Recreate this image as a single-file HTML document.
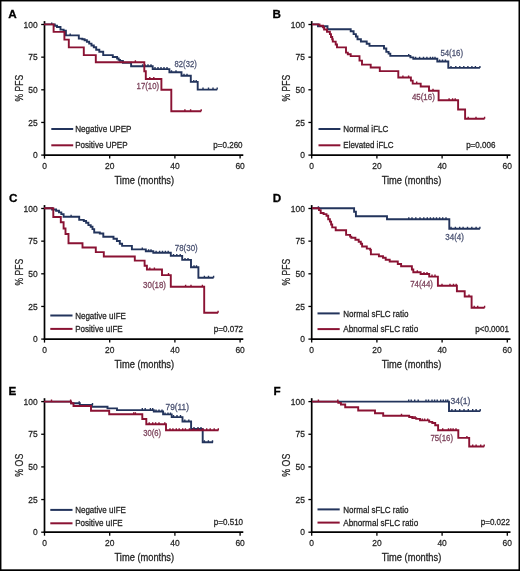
<!DOCTYPE html>
<html><head><meta charset="utf-8"><style>
html,body{margin:0;padding:0;background:#fff;overflow:hidden;}
svg{display:block;filter:blur(0.3px);}
text{font-family:'Liberation Sans',sans-serif;}
</style></head><body>
<svg width="520" height="571" viewBox="0 0 520 571">
<rect x="0" y="0" width="520" height="571" fill="#fff"/>
<rect x="0" y="0" width="520" height="1.45" fill="#000"/>
<rect x="0" y="0" width="1.45" height="571" fill="#000"/>
<rect x="518.5" y="0" width="1.5" height="571" fill="#000"/>
<rect x="0" y="569.3" width="520" height="1.7" fill="#000"/>
<path d="M44.5,21.1 V155.9" stroke="#000" stroke-width="1.7" fill="none"/>
<path d="M43.7,155.1 H243.3" stroke="#000" stroke-width="1.7" fill="none"/>
<path d="M41.2,155.1 H44.5" stroke="#000" stroke-width="1.3"/>
<text x="37.70" y="158.25" text-anchor="end" font-size="9.38" textLength="4.70" lengthAdjust="spacingAndGlyphs" fill="#242424" stroke="#242424" stroke-width="0.26" >0</text>
<path d="M41.2,122.44999999999999 H44.5" stroke="#000" stroke-width="1.3"/>
<text x="37.70" y="125.60" text-anchor="end" font-size="9.38" textLength="9.40" lengthAdjust="spacingAndGlyphs" fill="#242424" stroke="#242424" stroke-width="0.26" >25</text>
<path d="M41.2,89.8 H44.5" stroke="#000" stroke-width="1.3"/>
<text x="37.70" y="92.95" text-anchor="end" font-size="9.38" textLength="9.40" lengthAdjust="spacingAndGlyphs" fill="#242424" stroke="#242424" stroke-width="0.26" >50</text>
<path d="M41.2,57.14999999999999 H44.5" stroke="#000" stroke-width="1.3"/>
<text x="37.70" y="60.30" text-anchor="end" font-size="9.38" textLength="9.40" lengthAdjust="spacingAndGlyphs" fill="#242424" stroke="#242424" stroke-width="0.26" >75</text>
<path d="M41.2,24.5 H44.5" stroke="#000" stroke-width="1.3"/>
<text x="37.70" y="27.65" text-anchor="end" font-size="9.38" textLength="14.10" lengthAdjust="spacingAndGlyphs" fill="#242424" stroke="#242424" stroke-width="0.26" >100</text>
<path d="M44.5,155.1 V158.6" stroke="#000" stroke-width="1.3"/>
<text x="44.50" y="169.10" text-anchor="middle" font-size="9.38" textLength="4.70" lengthAdjust="spacingAndGlyphs" fill="#242424" stroke="#242424" stroke-width="0.26" >0</text>
<path d="M109.7,155.1 V158.6" stroke="#000" stroke-width="1.3"/>
<text x="109.70" y="169.10" text-anchor="middle" font-size="9.38" textLength="9.40" lengthAdjust="spacingAndGlyphs" fill="#242424" stroke="#242424" stroke-width="0.26" >20</text>
<path d="M174.9,155.1 V158.6" stroke="#000" stroke-width="1.3"/>
<text x="174.90" y="169.10" text-anchor="middle" font-size="9.38" textLength="9.40" lengthAdjust="spacingAndGlyphs" fill="#242424" stroke="#242424" stroke-width="0.26" >40</text>
<path d="M240.10000000000002,155.1 V158.6" stroke="#000" stroke-width="1.3"/>
<text x="240.10" y="169.10" text-anchor="middle" font-size="9.38" textLength="9.40" lengthAdjust="spacingAndGlyphs" fill="#242424" stroke="#242424" stroke-width="0.26" >60</text>
<text x="144.30" y="183.70" text-anchor="middle" font-size="10.26" textLength="59.60" lengthAdjust="spacingAndGlyphs" fill="#242424" stroke="#242424" stroke-width="0.28" >Time (months)</text>
<text x="0.00" y="0.00" text-anchor="middle" font-size="10.26" textLength="26.60" lengthAdjust="spacingAndGlyphs" fill="#242424" stroke="#242424" stroke-width="0.26" transform="translate(22.9,88.1) rotate(-90)">% PFS</text>
<text x="8.2" y="18.2" font-size="11.7" font-weight="bold" fill="#000" stroke="#000" stroke-width="0.28">A</text>
<path d="M51.3,129.0 H73.2" stroke="#23345c" stroke-width="2"/>
<path d="M51.3,145.3 H73.2" stroke="#8a1233" stroke-width="2"/>
<text x="75.20" y="132.10" text-anchor="start" font-size="8.64" textLength="56.30" lengthAdjust="spacingAndGlyphs" fill="#242424" stroke="#242424" stroke-width="0.26" >Negative UPEP</text>
<text x="75.20" y="148.40" text-anchor="start" font-size="8.64" textLength="52.40" lengthAdjust="spacingAndGlyphs" fill="#242424" stroke="#242424" stroke-width="0.26" >Positive UPEP</text>
<text x="242.60" y="147.70" text-anchor="end" font-size="8.42" textLength="29.26" lengthAdjust="spacingAndGlyphs" fill="#242424" stroke="#242424" stroke-width="0.26" >p=0.260</text>
<path d="M44,24.4 H54.8 V25.8 H57 V27 H60.5 V29.6 H63.6 V30.6 H65.9 V35.4 H78.8 V38.6 H82.3 V39.2 H84.6 V40.2 H86.9 V41.7 H89.2 V43.6 H91.5 V45.5 H93.8 V47.3 H96.2 V49.8 H99.3 V51.7 H103.2 V55.1 H112.8 V57 H117.1 V58.5 H118.6 V59.9 H120 V60.9 H122.9 V62.8 H131.1 V66.2 H152.7 V69.1 H169.4 V72.3 H181.5 V75.8 H190.8 V81.9 H197.7 V89.6 H217.2" stroke="#23345c" stroke-width="1.9" fill="none"/>
<path d="M51.7,24.4 V22.4 M57,27 V25.0 M70.2,35.4 V33.4 M142.6,66.2 V64.2 M145,66.2 V64.2 M148,66.2 V64.2 M151,66.2 V64.2 M155,69.1 V67.1 M158,69.1 V67.1 M161,69.1 V67.1 M164,69.1 V67.1 M167,69.1 V67.1 M171.5,72.3 V70.3 M176,72.3 V70.3 M184,75.8 V73.8 M187,75.8 V73.8 M193.8,81.9 V79.9 M196.2,81.9 V79.9 M203,89.6 V87.6 M208.5,89.6 V87.6 M213,89.6 V87.6 M217.2,89.6 V87.6" stroke="#23345c" stroke-width="1.4"/>
<path d="M44,24.4 H53.6 V31.9 H64.4 V39.6 H68.8 V47.4 H83.8 V55.1 H95.8 V62.3 H144.3 V71.3 H145.8 V79.0 H161.4 V89.8 H171.3 V111.2 H201.2" stroke="#8a1233" stroke-width="1.9" fill="none"/>
<path d="M135.4,62.3 V60.3 M149.8,79.0 V77.0 M153.8,79.0 V77.0 M184.9,111.2 V109.2 M190.6,111.2 V109.2 M201.2,111.2 V109.2" stroke="#8a1233" stroke-width="1.4"/>
<text x="174.60" y="67.10" text-anchor="start" font-size="8.21" textLength="22.10" lengthAdjust="spacingAndGlyphs" fill="#4a5272" stroke="#4a5272" stroke-width="0.26" >82(32)</text>
<text x="136.60" y="88.60" text-anchor="start" font-size="8.21" textLength="22.50" lengthAdjust="spacingAndGlyphs" fill="#7a3f58" stroke="#7a3f58" stroke-width="0.26" >17(10)</text>
<path d="M311.7,21.1 V155.9" stroke="#000" stroke-width="1.7" fill="none"/>
<path d="M310.9,155.1 H510.5" stroke="#000" stroke-width="1.7" fill="none"/>
<path d="M308.4,155.1 H311.7" stroke="#000" stroke-width="1.3"/>
<text x="304.90" y="158.25" text-anchor="end" font-size="9.38" textLength="4.70" lengthAdjust="spacingAndGlyphs" fill="#242424" stroke="#242424" stroke-width="0.26" >0</text>
<path d="M308.4,122.44999999999999 H311.7" stroke="#000" stroke-width="1.3"/>
<text x="304.90" y="125.60" text-anchor="end" font-size="9.38" textLength="9.40" lengthAdjust="spacingAndGlyphs" fill="#242424" stroke="#242424" stroke-width="0.26" >25</text>
<path d="M308.4,89.8 H311.7" stroke="#000" stroke-width="1.3"/>
<text x="304.90" y="92.95" text-anchor="end" font-size="9.38" textLength="9.40" lengthAdjust="spacingAndGlyphs" fill="#242424" stroke="#242424" stroke-width="0.26" >50</text>
<path d="M308.4,57.14999999999999 H311.7" stroke="#000" stroke-width="1.3"/>
<text x="304.90" y="60.30" text-anchor="end" font-size="9.38" textLength="9.40" lengthAdjust="spacingAndGlyphs" fill="#242424" stroke="#242424" stroke-width="0.26" >75</text>
<path d="M308.4,24.5 H311.7" stroke="#000" stroke-width="1.3"/>
<text x="304.90" y="27.65" text-anchor="end" font-size="9.38" textLength="14.10" lengthAdjust="spacingAndGlyphs" fill="#242424" stroke="#242424" stroke-width="0.26" >100</text>
<path d="M311.7,155.1 V158.6" stroke="#000" stroke-width="1.3"/>
<text x="311.70" y="169.10" text-anchor="middle" font-size="9.38" textLength="4.70" lengthAdjust="spacingAndGlyphs" fill="#242424" stroke="#242424" stroke-width="0.26" >0</text>
<path d="M376.9,155.1 V158.6" stroke="#000" stroke-width="1.3"/>
<text x="376.90" y="169.10" text-anchor="middle" font-size="9.38" textLength="9.40" lengthAdjust="spacingAndGlyphs" fill="#242424" stroke="#242424" stroke-width="0.26" >20</text>
<path d="M442.1,155.1 V158.6" stroke="#000" stroke-width="1.3"/>
<text x="442.10" y="169.10" text-anchor="middle" font-size="9.38" textLength="9.40" lengthAdjust="spacingAndGlyphs" fill="#242424" stroke="#242424" stroke-width="0.26" >40</text>
<path d="M507.3,155.1 V158.6" stroke="#000" stroke-width="1.3"/>
<text x="507.30" y="169.10" text-anchor="middle" font-size="9.38" textLength="9.40" lengthAdjust="spacingAndGlyphs" fill="#242424" stroke="#242424" stroke-width="0.26" >60</text>
<text x="411.50" y="183.70" text-anchor="middle" font-size="10.26" textLength="59.60" lengthAdjust="spacingAndGlyphs" fill="#242424" stroke="#242424" stroke-width="0.28" >Time (months)</text>
<text x="0.00" y="0.00" text-anchor="middle" font-size="10.26" textLength="26.60" lengthAdjust="spacingAndGlyphs" fill="#242424" stroke="#242424" stroke-width="0.26" transform="translate(290.09999999999997,88.1) rotate(-90)">% PFS</text>
<text x="272.6" y="18.2" font-size="11.7" font-weight="bold" fill="#000" stroke="#000" stroke-width="0.28">B</text>
<path d="M318.5,129.0 H340.4" stroke="#23345c" stroke-width="2"/>
<path d="M318.5,145.3 H340.4" stroke="#8a1233" stroke-width="2"/>
<text x="343.30" y="132.10" text-anchor="start" font-size="8.64" textLength="45.00" lengthAdjust="spacingAndGlyphs" fill="#242424" stroke="#242424" stroke-width="0.26" >Normal iFLC</text>
<text x="343.30" y="148.40" text-anchor="start" font-size="8.64" textLength="50.20" lengthAdjust="spacingAndGlyphs" fill="#242424" stroke="#242424" stroke-width="0.26" >Elevated iFLC</text>
<text x="495.40" y="147.70" text-anchor="end" font-size="8.42" textLength="29.26" lengthAdjust="spacingAndGlyphs" fill="#242424" stroke="#242424" stroke-width="0.26" >p=0.006</text>
<path d="M312,24.4 H318 V26.2 H327.5 V29.3 H350.7 V31.3 H353.6 V34.1 H355.9 V36.5 H357.5 V39.2 H360.9 V41.5 H366.7 V43.8 H369.5 V45.9 H384 V48.5 H386.3 V51.9 H388.6 V53.6 H390.3 V55.9 H410.4 V57.4 H413.3 V58.8 H437.3 V61.5 H448.3 V67.9 H479.9" stroke="#23345c" stroke-width="1.9" fill="none"/>
<path d="M408.7,55.9 V53.9 M415.6,58.8 V56.8 M419.6,58.8 V56.8 M423.5,58.8 V56.8 M426.9,58.8 V56.8 M430.4,58.8 V56.8 M432.7,58.8 V56.8 M435,58.8 V56.8 M439.6,61.5 V59.5 M442.5,61.5 V59.5 M445.4,61.5 V59.5 M451,67.9 V65.9 M455.8,67.9 V65.9 M459.8,67.9 V65.9 M463.8,67.9 V65.9 M467.9,67.9 V65.9 M471.9,67.9 V65.9 M475.4,67.9 V65.9 M479.9,67.9 V65.9" stroke="#23345c" stroke-width="1.4"/>
<path d="M312,24.4 H319.5 V25.8 H323 V27.2 H324.1 V29.5 H327 V31.8 H329.9 V34.1 H331 V37 H332.2 V39.3 H332.8 V41.6 H335.7 V44.5 H337 V47.4 H346 V52.6 H347.8 V54.3 H350.7 V56.1 H359.5 V60.6 H362 V64.6 H370.7 V67.5 H379.8 V71.1 H398.3 V77.5 H410.9 V80.6 H412.7 V83.6 H420.7 V86.5 H429 V90.7 H438.6 V100.2 H458.1 V109.5 H465.1 V118.7 H484.6" stroke="#8a1233" stroke-width="1.9" fill="none"/>
<path d="M402.9,77.5 V75.5 M408.6,77.5 V75.5 M416.7,83.6 V81.6 M433,90.7 V88.7 M449.1,100.2 V98.2 M452.6,100.2 V98.2 M455.2,100.2 V98.2 M468.2,118.7 V116.7 M476,118.7 V116.7 M484.6,118.7 V116.7" stroke="#8a1233" stroke-width="1.4"/>
<text x="440.40" y="56.20" text-anchor="start" font-size="8.21" textLength="22.60" lengthAdjust="spacingAndGlyphs" fill="#4a5272" stroke="#4a5272" stroke-width="0.26" >54(16)</text>
<text x="411.90" y="100.40" text-anchor="start" font-size="8.21" textLength="22.90" lengthAdjust="spacingAndGlyphs" fill="#7a3f58" stroke="#7a3f58" stroke-width="0.26" >45(16)</text>
<path d="M44.5,205.10000000000002 V339.90000000000003" stroke="#000" stroke-width="1.7" fill="none"/>
<path d="M43.7,339.1 H243.3" stroke="#000" stroke-width="1.7" fill="none"/>
<path d="M41.2,339.1 H44.5" stroke="#000" stroke-width="1.3"/>
<text x="37.70" y="342.25" text-anchor="end" font-size="9.38" textLength="4.70" lengthAdjust="spacingAndGlyphs" fill="#242424" stroke="#242424" stroke-width="0.26" >0</text>
<path d="M41.2,306.45000000000005 H44.5" stroke="#000" stroke-width="1.3"/>
<text x="37.70" y="309.60" text-anchor="end" font-size="9.38" textLength="9.40" lengthAdjust="spacingAndGlyphs" fill="#242424" stroke="#242424" stroke-width="0.26" >25</text>
<path d="M41.2,273.8 H44.5" stroke="#000" stroke-width="1.3"/>
<text x="37.70" y="276.95" text-anchor="end" font-size="9.38" textLength="9.40" lengthAdjust="spacingAndGlyphs" fill="#242424" stroke="#242424" stroke-width="0.26" >50</text>
<path d="M41.2,241.15000000000003 H44.5" stroke="#000" stroke-width="1.3"/>
<text x="37.70" y="244.30" text-anchor="end" font-size="9.38" textLength="9.40" lengthAdjust="spacingAndGlyphs" fill="#242424" stroke="#242424" stroke-width="0.26" >75</text>
<path d="M41.2,208.50000000000003 H44.5" stroke="#000" stroke-width="1.3"/>
<text x="37.70" y="211.65" text-anchor="end" font-size="9.38" textLength="14.10" lengthAdjust="spacingAndGlyphs" fill="#242424" stroke="#242424" stroke-width="0.26" >100</text>
<path d="M44.5,339.1 V342.6" stroke="#000" stroke-width="1.3"/>
<text x="44.50" y="353.10" text-anchor="middle" font-size="9.38" textLength="4.70" lengthAdjust="spacingAndGlyphs" fill="#242424" stroke="#242424" stroke-width="0.26" >0</text>
<path d="M109.7,339.1 V342.6" stroke="#000" stroke-width="1.3"/>
<text x="109.70" y="353.10" text-anchor="middle" font-size="9.38" textLength="9.40" lengthAdjust="spacingAndGlyphs" fill="#242424" stroke="#242424" stroke-width="0.26" >20</text>
<path d="M174.9,339.1 V342.6" stroke="#000" stroke-width="1.3"/>
<text x="174.90" y="353.10" text-anchor="middle" font-size="9.38" textLength="9.40" lengthAdjust="spacingAndGlyphs" fill="#242424" stroke="#242424" stroke-width="0.26" >40</text>
<path d="M240.10000000000002,339.1 V342.6" stroke="#000" stroke-width="1.3"/>
<text x="240.10" y="353.10" text-anchor="middle" font-size="9.38" textLength="9.40" lengthAdjust="spacingAndGlyphs" fill="#242424" stroke="#242424" stroke-width="0.26" >60</text>
<text x="144.30" y="367.70" text-anchor="middle" font-size="10.26" textLength="59.60" lengthAdjust="spacingAndGlyphs" fill="#242424" stroke="#242424" stroke-width="0.28" >Time (months)</text>
<text x="0.00" y="0.00" text-anchor="middle" font-size="10.26" textLength="26.60" lengthAdjust="spacingAndGlyphs" fill="#242424" stroke="#242424" stroke-width="0.26" transform="translate(22.9,272.1) rotate(-90)">% PFS</text>
<text x="9.0" y="202.0" font-size="11.7" font-weight="bold" fill="#000" stroke="#000" stroke-width="0.28">C</text>
<path d="M50.3,315.5 H72.5" stroke="#23345c" stroke-width="2"/>
<path d="M50.3,328.9 H72.5" stroke="#8a1233" stroke-width="2"/>
<text x="75.20" y="318.60" text-anchor="start" font-size="8.64" textLength="50.70" lengthAdjust="spacingAndGlyphs" fill="#242424" stroke="#242424" stroke-width="0.26" >Negative uIFE</text>
<text x="75.20" y="332.00" text-anchor="start" font-size="8.64" textLength="47.50" lengthAdjust="spacingAndGlyphs" fill="#242424" stroke="#242424" stroke-width="0.26" >Positive uIFE</text>
<text x="243.10" y="331.90" text-anchor="end" font-size="8.42" textLength="29.26" lengthAdjust="spacingAndGlyphs" fill="#242424" stroke="#242424" stroke-width="0.26" >p=0.072</text>
<path d="M44,208.3 H52.1 V209.5 H56.1 V210.7 H59 V212.4 H61.3 V214.1 H63.6 V216.8 H79.2 V219.9 H83.8 V221 H86.1 V222.8 H88.4 V225.1 H90.7 V226.8 H92.5 V229.1 H94.2 V232.5 H99.8 V233.5 H103.3 V236.7 H113.5 V238.7 H116.9 V241 H119.8 V243.8 H122.1 V245.9 H131.9 V249.4 H145.8 V251.3 H153.3 V252.8 H170.8 V255.9 H182.2 V259.9 H191 V267.3 H198.4 V277.8 H213.6" stroke="#23345c" stroke-width="1.9" fill="none"/>
<path d="M71.1,216.8 V214.8 M142.3,249.4 V247.4 M148.6,251.3 V249.3 M151,251.3 V249.3 M156.1,252.8 V250.8 M159.6,252.8 V250.8 M162.5,252.8 V250.8 M165.4,252.8 V250.8 M168.2,252.8 V250.8 M173.5,255.9 V253.9 M176.8,255.9 V253.9 M180.2,255.9 V253.9 M185,259.9 V257.9 M188,259.9 V257.9 M194,267.3 V265.3 M196.5,267.3 V265.3 M204.4,277.8 V275.8 M208.5,277.8 V275.8 M213.6,277.8 V275.8" stroke="#23345c" stroke-width="1.4"/>
<path d="M44,208.3 H53.3 V217 H60.8 V222.2 H63.6 V228.5 H65.5 V234 H68.5 V243.2 H82.5 V247.5 H95.8 V252.1 H103.8 V256.5 H134.8 V260.6 H144.6 V265.8 H146.9 V269.5 H162 V275.1 H170.8 V286.8 H204.2 V312.7 H218.1" stroke="#8a1233" stroke-width="1.9" fill="none"/>
<path d="M149.8,269.5 V267.5 M154.4,269.5 V267.5 M168.5,275.1 V273.1 M185.6,286.8 V284.8 M191,286.8 V284.8 M202.4,286.8 V284.8 M218.1,312.7 V310.7" stroke="#8a1233" stroke-width="1.4"/>
<text x="174.80" y="250.50" text-anchor="start" font-size="8.21" textLength="22.90" lengthAdjust="spacingAndGlyphs" fill="#4a5272" stroke="#4a5272" stroke-width="0.26" >78(30)</text>
<text x="143.10" y="288.30" text-anchor="start" font-size="8.21" textLength="22.90" lengthAdjust="spacingAndGlyphs" fill="#7a3f58" stroke="#7a3f58" stroke-width="0.26" >30(18)</text>
<path d="M311.7,205.10000000000002 V339.90000000000003" stroke="#000" stroke-width="1.7" fill="none"/>
<path d="M310.9,339.1 H510.5" stroke="#000" stroke-width="1.7" fill="none"/>
<path d="M308.4,339.1 H311.7" stroke="#000" stroke-width="1.3"/>
<text x="304.90" y="342.25" text-anchor="end" font-size="9.38" textLength="4.70" lengthAdjust="spacingAndGlyphs" fill="#242424" stroke="#242424" stroke-width="0.26" >0</text>
<path d="M308.4,306.45000000000005 H311.7" stroke="#000" stroke-width="1.3"/>
<text x="304.90" y="309.60" text-anchor="end" font-size="9.38" textLength="9.40" lengthAdjust="spacingAndGlyphs" fill="#242424" stroke="#242424" stroke-width="0.26" >25</text>
<path d="M308.4,273.8 H311.7" stroke="#000" stroke-width="1.3"/>
<text x="304.90" y="276.95" text-anchor="end" font-size="9.38" textLength="9.40" lengthAdjust="spacingAndGlyphs" fill="#242424" stroke="#242424" stroke-width="0.26" >50</text>
<path d="M308.4,241.15000000000003 H311.7" stroke="#000" stroke-width="1.3"/>
<text x="304.90" y="244.30" text-anchor="end" font-size="9.38" textLength="9.40" lengthAdjust="spacingAndGlyphs" fill="#242424" stroke="#242424" stroke-width="0.26" >75</text>
<path d="M308.4,208.50000000000003 H311.7" stroke="#000" stroke-width="1.3"/>
<text x="304.90" y="211.65" text-anchor="end" font-size="9.38" textLength="14.10" lengthAdjust="spacingAndGlyphs" fill="#242424" stroke="#242424" stroke-width="0.26" >100</text>
<path d="M311.7,339.1 V342.6" stroke="#000" stroke-width="1.3"/>
<text x="311.70" y="353.10" text-anchor="middle" font-size="9.38" textLength="4.70" lengthAdjust="spacingAndGlyphs" fill="#242424" stroke="#242424" stroke-width="0.26" >0</text>
<path d="M376.9,339.1 V342.6" stroke="#000" stroke-width="1.3"/>
<text x="376.90" y="353.10" text-anchor="middle" font-size="9.38" textLength="9.40" lengthAdjust="spacingAndGlyphs" fill="#242424" stroke="#242424" stroke-width="0.26" >20</text>
<path d="M442.1,339.1 V342.6" stroke="#000" stroke-width="1.3"/>
<text x="442.10" y="353.10" text-anchor="middle" font-size="9.38" textLength="9.40" lengthAdjust="spacingAndGlyphs" fill="#242424" stroke="#242424" stroke-width="0.26" >40</text>
<path d="M507.3,339.1 V342.6" stroke="#000" stroke-width="1.3"/>
<text x="507.30" y="353.10" text-anchor="middle" font-size="9.38" textLength="9.40" lengthAdjust="spacingAndGlyphs" fill="#242424" stroke="#242424" stroke-width="0.26" >60</text>
<text x="411.50" y="367.70" text-anchor="middle" font-size="10.26" textLength="59.60" lengthAdjust="spacingAndGlyphs" fill="#242424" stroke="#242424" stroke-width="0.28" >Time (months)</text>
<text x="0.00" y="0.00" text-anchor="middle" font-size="10.26" textLength="26.60" lengthAdjust="spacingAndGlyphs" fill="#242424" stroke="#242424" stroke-width="0.26" transform="translate(290.09999999999997,272.1) rotate(-90)">% PFS</text>
<text x="272.7" y="202.0" font-size="11.7" font-weight="bold" fill="#000" stroke="#000" stroke-width="0.28">D</text>
<path d="M317.5,313.4 H339.7" stroke="#23345c" stroke-width="2"/>
<path d="M317.5,329.1 H339.7" stroke="#8a1233" stroke-width="2"/>
<text x="343.30" y="316.50" text-anchor="start" font-size="8.64" textLength="65.20" lengthAdjust="spacingAndGlyphs" fill="#242424" stroke="#242424" stroke-width="0.26" >Normal sFLC ratio</text>
<text x="343.30" y="332.20" text-anchor="start" font-size="8.64" textLength="74.90" lengthAdjust="spacingAndGlyphs" fill="#242424" stroke="#242424" stroke-width="0.26" >Abnormal sFLC ratio</text>
<text x="509.00" y="331.50" text-anchor="end" font-size="8.42" textLength="33.73" lengthAdjust="spacingAndGlyphs" fill="#242424" stroke="#242424" stroke-width="0.26" >p<0.0001</text>
<path d="M312,208.3 H354.1 V211.8 H355.9 V216.3 H387 V219.2 H449.3 V228.7 H479.9" stroke="#23345c" stroke-width="1.9" fill="none"/>
<path d="M318.4,208.3 V206.3 M408.8,219.2 V217.2 M412,219.2 V217.2 M415.8,219.2 V217.2 M420,219.2 V217.2 M423.8,219.2 V217.2 M427.3,219.2 V217.2 M430.4,219.2 V217.2 M433.5,219.2 V217.2 M436.5,219.2 V217.2 M439.6,219.2 V217.2 M442.7,219.2 V217.2 M446,219.2 V217.2 M451,228.7 V226.7 M455.4,228.7 V226.7 M459.7,228.7 V226.7 M463.1,228.7 V226.7 M467.5,228.7 V226.7 M471.8,228.7 V226.7 M476.1,228.7 V226.7 M479.9,228.7 V226.7" stroke="#23345c" stroke-width="1.4"/>
<path d="M312,208.3 H319 V210.1 H320.7 V213 H323.6 V214.1 H326.5 V215.8 H328.2 V219.3 H329.9 V221.6 H331.1 V224.5 H332.2 V227.4 H335.7 V230.3 H346.1 V234.9 H350.1 V236.6 H351.3 V237.8 H355.4 V239.8 H358.7 V241.8 H360.8 V243.8 H362.1 V246.5 H366.8 V248.6 H370.2 V249.9 H370.9 V254.4 H378.9 V256.2 H383 V257.8 H385.7 V259.8 H389.7 V261.5 H397.8 V264 H401.1 V266.3 H411.9 V269.5 H413.3 V272.2 H420.6 V274 H429.2 V276.6 H437.9 V285.8 H456.9 V291.3 H464.7 V296.5 H471.6 V307.8 H484.6" stroke="#8a1233" stroke-width="1.9" fill="none"/>
<path d="M417.3,272.2 V270.2 M424,274 V272.0 M427,274 V272.0 M432,276.6 V274.6 M435,276.6 V274.6 M442,285.8 V283.8 M450,285.8 V283.8 M453.5,285.8 V283.8 M456.2,285.8 V283.8 M469,296.5 V294.5 M474.2,307.8 V305.8 M477.7,307.8 V305.8 M484.6,307.8 V305.8" stroke="#8a1233" stroke-width="1.4"/>
<text x="445.30" y="239.60" text-anchor="start" font-size="8.21" textLength="18.70" lengthAdjust="spacingAndGlyphs" fill="#4a5272" stroke="#4a5272" stroke-width="0.26" >34(4)</text>
<text x="410.20" y="286.70" text-anchor="start" font-size="8.21" textLength="22.80" lengthAdjust="spacingAndGlyphs" fill="#7a3f58" stroke="#7a3f58" stroke-width="0.26" >74(44)</text>
<path d="M44.5,398.20000000000005 V533.0" stroke="#000" stroke-width="1.7" fill="none"/>
<path d="M43.7,532.2 H243.3" stroke="#000" stroke-width="1.7" fill="none"/>
<path d="M41.2,532.2 H44.5" stroke="#000" stroke-width="1.3"/>
<text x="37.70" y="535.35" text-anchor="end" font-size="9.38" textLength="4.70" lengthAdjust="spacingAndGlyphs" fill="#242424" stroke="#242424" stroke-width="0.26" >0</text>
<path d="M41.2,499.55000000000007 H44.5" stroke="#000" stroke-width="1.3"/>
<text x="37.70" y="502.70" text-anchor="end" font-size="9.38" textLength="9.40" lengthAdjust="spacingAndGlyphs" fill="#242424" stroke="#242424" stroke-width="0.26" >25</text>
<path d="M41.2,466.90000000000003 H44.5" stroke="#000" stroke-width="1.3"/>
<text x="37.70" y="470.05" text-anchor="end" font-size="9.38" textLength="9.40" lengthAdjust="spacingAndGlyphs" fill="#242424" stroke="#242424" stroke-width="0.26" >50</text>
<path d="M41.2,434.25000000000006 H44.5" stroke="#000" stroke-width="1.3"/>
<text x="37.70" y="437.40" text-anchor="end" font-size="9.38" textLength="9.40" lengthAdjust="spacingAndGlyphs" fill="#242424" stroke="#242424" stroke-width="0.26" >75</text>
<path d="M41.2,401.6 H44.5" stroke="#000" stroke-width="1.3"/>
<text x="37.70" y="404.75" text-anchor="end" font-size="9.38" textLength="14.10" lengthAdjust="spacingAndGlyphs" fill="#242424" stroke="#242424" stroke-width="0.26" >100</text>
<path d="M44.5,532.2 V535.7" stroke="#000" stroke-width="1.3"/>
<text x="44.50" y="546.20" text-anchor="middle" font-size="9.38" textLength="4.70" lengthAdjust="spacingAndGlyphs" fill="#242424" stroke="#242424" stroke-width="0.26" >0</text>
<path d="M109.7,532.2 V535.7" stroke="#000" stroke-width="1.3"/>
<text x="109.70" y="546.20" text-anchor="middle" font-size="9.38" textLength="9.40" lengthAdjust="spacingAndGlyphs" fill="#242424" stroke="#242424" stroke-width="0.26" >20</text>
<path d="M174.9,532.2 V535.7" stroke="#000" stroke-width="1.3"/>
<text x="174.90" y="546.20" text-anchor="middle" font-size="9.38" textLength="9.40" lengthAdjust="spacingAndGlyphs" fill="#242424" stroke="#242424" stroke-width="0.26" >40</text>
<path d="M240.10000000000002,532.2 V535.7" stroke="#000" stroke-width="1.3"/>
<text x="240.10" y="546.20" text-anchor="middle" font-size="9.38" textLength="9.40" lengthAdjust="spacingAndGlyphs" fill="#242424" stroke="#242424" stroke-width="0.26" >60</text>
<text x="144.30" y="560.80" text-anchor="middle" font-size="10.26" textLength="59.60" lengthAdjust="spacingAndGlyphs" fill="#242424" stroke="#242424" stroke-width="0.28" >Time (months)</text>
<text x="0.00" y="0.00" text-anchor="middle" font-size="10.26" textLength="23.00" lengthAdjust="spacingAndGlyphs" fill="#242424" stroke="#242424" stroke-width="0.26" transform="translate(22.9,465.20000000000005) rotate(-90)">% OS</text>
<text x="8.5" y="394.5" font-size="11.7" font-weight="bold" fill="#000" stroke="#000" stroke-width="0.28">E</text>
<path d="M50.3,509.9 H72.5" stroke="#23345c" stroke-width="2"/>
<path d="M50.3,523.3 H72.5" stroke="#8a1233" stroke-width="2"/>
<text x="75.20" y="513.00" text-anchor="start" font-size="8.64" textLength="50.70" lengthAdjust="spacingAndGlyphs" fill="#242424" stroke="#242424" stroke-width="0.26" >Negative uIFE</text>
<text x="75.20" y="526.40" text-anchor="start" font-size="8.64" textLength="47.50" lengthAdjust="spacingAndGlyphs" fill="#242424" stroke="#242424" stroke-width="0.26" >Positive uIFE</text>
<text x="243.10" y="524.70" text-anchor="end" font-size="8.42" textLength="29.26" lengthAdjust="spacingAndGlyphs" fill="#242424" stroke="#242424" stroke-width="0.26" >p=0.510</text>
<path d="M44,401.6 H71.1 V403.2 H79.8 V405 H91.9 V406.7 H107.5 V408.4 H117 V410.1 H153.8 V411.5 H163.1 V414.4 H171.7 V417.1 H182.5 V421.5 H191.1 V429 H202.7 V442.3 H213.1" stroke="#23345c" stroke-width="1.9" fill="none"/>
<path d="M79.2,403.2 V401.2 M92.5,405 V403.0 M142.3,410.1 V408.1 M145.2,410.1 V408.1 M150.4,410.1 V408.1 M152.7,410.1 V408.1 M156,411.5 V409.5 M159,411.5 V409.5 M162,411.5 V409.5 M165,414.4 V412.4 M168,414.4 V412.4 M170.5,414.4 V412.4 M173.5,417.1 V415.1 M177,417.1 V415.1 M180.5,417.1 V415.1 M184.8,421.5 V419.5 M188.8,421.5 V419.5 M194,429 V427.0 M198,429 V427.0 M201,429 V427.0 M204.4,442.3 V440.3 M208.4,442.3 V440.3 M212.5,442.3 V440.3" stroke="#23345c" stroke-width="1.4"/>
<path d="M44,401.6 H71.1 V403.2 H73.5 V406 H91 V410.7 H109.2 V414.2 H142.3 V419 H146.3 V424.2 H166 V430.3 H218.5" stroke="#8a1233" stroke-width="1.9" fill="none"/>
<path d="M51.5,401.6 V399.6 M70.6,401.6 V399.6 M133.7,414.2 V412.2 M135.4,414.2 V412.2 M149.2,424.2 V422.2 M152.7,424.2 V422.2 M155.6,424.2 V422.2 M159,424.2 V422.2 M164.8,424.2 V422.2 M170,430.3 V428.3 M172.9,430.3 V428.3 M176.3,430.3 V428.3 M179.2,430.3 V428.3 M182.7,430.3 V428.3 M185.4,430.3 V428.3 M189.4,430.3 V428.3 M193.5,430.3 V428.3 M198.1,430.3 V428.3 M202.7,430.3 V428.3 M206.7,430.3 V428.3 M210.2,430.3 V428.3 M214.2,430.3 V428.3 M218.3,430.3 V428.3" stroke="#8a1233" stroke-width="1.4"/>
<text x="165.60" y="410.40" text-anchor="start" font-size="8.21" textLength="23.40" lengthAdjust="spacingAndGlyphs" fill="#4a5272" stroke="#4a5272" stroke-width="0.26" >79(11)</text>
<text x="143.20" y="435.70" text-anchor="start" font-size="8.21" textLength="17.80" lengthAdjust="spacingAndGlyphs" fill="#7a3f58" stroke="#7a3f58" stroke-width="0.26" >30(6)</text>
<path d="M311.7,398.20000000000005 V533.0" stroke="#000" stroke-width="1.7" fill="none"/>
<path d="M310.9,532.2 H510.5" stroke="#000" stroke-width="1.7" fill="none"/>
<path d="M308.4,532.2 H311.7" stroke="#000" stroke-width="1.3"/>
<text x="304.90" y="535.35" text-anchor="end" font-size="9.38" textLength="4.70" lengthAdjust="spacingAndGlyphs" fill="#242424" stroke="#242424" stroke-width="0.26" >0</text>
<path d="M308.4,499.55000000000007 H311.7" stroke="#000" stroke-width="1.3"/>
<text x="304.90" y="502.70" text-anchor="end" font-size="9.38" textLength="9.40" lengthAdjust="spacingAndGlyphs" fill="#242424" stroke="#242424" stroke-width="0.26" >25</text>
<path d="M308.4,466.90000000000003 H311.7" stroke="#000" stroke-width="1.3"/>
<text x="304.90" y="470.05" text-anchor="end" font-size="9.38" textLength="9.40" lengthAdjust="spacingAndGlyphs" fill="#242424" stroke="#242424" stroke-width="0.26" >50</text>
<path d="M308.4,434.25000000000006 H311.7" stroke="#000" stroke-width="1.3"/>
<text x="304.90" y="437.40" text-anchor="end" font-size="9.38" textLength="9.40" lengthAdjust="spacingAndGlyphs" fill="#242424" stroke="#242424" stroke-width="0.26" >75</text>
<path d="M308.4,401.6 H311.7" stroke="#000" stroke-width="1.3"/>
<text x="304.90" y="404.75" text-anchor="end" font-size="9.38" textLength="14.10" lengthAdjust="spacingAndGlyphs" fill="#242424" stroke="#242424" stroke-width="0.26" >100</text>
<path d="M311.7,532.2 V535.7" stroke="#000" stroke-width="1.3"/>
<text x="311.70" y="546.20" text-anchor="middle" font-size="9.38" textLength="4.70" lengthAdjust="spacingAndGlyphs" fill="#242424" stroke="#242424" stroke-width="0.26" >0</text>
<path d="M376.9,532.2 V535.7" stroke="#000" stroke-width="1.3"/>
<text x="376.90" y="546.20" text-anchor="middle" font-size="9.38" textLength="9.40" lengthAdjust="spacingAndGlyphs" fill="#242424" stroke="#242424" stroke-width="0.26" >20</text>
<path d="M442.1,532.2 V535.7" stroke="#000" stroke-width="1.3"/>
<text x="442.10" y="546.20" text-anchor="middle" font-size="9.38" textLength="9.40" lengthAdjust="spacingAndGlyphs" fill="#242424" stroke="#242424" stroke-width="0.26" >40</text>
<path d="M507.3,532.2 V535.7" stroke="#000" stroke-width="1.3"/>
<text x="507.30" y="546.20" text-anchor="middle" font-size="9.38" textLength="9.40" lengthAdjust="spacingAndGlyphs" fill="#242424" stroke="#242424" stroke-width="0.26" >60</text>
<text x="411.50" y="560.80" text-anchor="middle" font-size="10.26" textLength="59.60" lengthAdjust="spacingAndGlyphs" fill="#242424" stroke="#242424" stroke-width="0.28" >Time (months)</text>
<text x="0.00" y="0.00" text-anchor="middle" font-size="10.26" textLength="23.00" lengthAdjust="spacingAndGlyphs" fill="#242424" stroke="#242424" stroke-width="0.26" transform="translate(290.09999999999997,465.20000000000005) rotate(-90)">% OS</text>
<text x="273.5" y="395.0" font-size="11.7" font-weight="bold" fill="#000" stroke="#000" stroke-width="0.28">F</text>
<path d="M317.5,509.4 H339.7" stroke="#23345c" stroke-width="2"/>
<path d="M317.5,522.6 H339.7" stroke="#8a1233" stroke-width="2"/>
<text x="343.30" y="512.50" text-anchor="start" font-size="8.64" textLength="65.20" lengthAdjust="spacingAndGlyphs" fill="#242424" stroke="#242424" stroke-width="0.26" >Normal sFLC ratio</text>
<text x="343.30" y="525.70" text-anchor="start" font-size="8.64" textLength="74.90" lengthAdjust="spacingAndGlyphs" fill="#242424" stroke="#242424" stroke-width="0.26" >Abnormal sFLC ratio</text>
<text x="510.00" y="524.70" text-anchor="end" font-size="8.42" textLength="29.26" lengthAdjust="spacingAndGlyphs" fill="#242424" stroke="#242424" stroke-width="0.26" >p=0.022</text>
<path d="M312,401.6 H449 V411.1 H480.4" stroke="#23345c" stroke-width="1.9" fill="none"/>
<path d="M408.7,401.6 V399.6 M411.2,401.6 V399.6 M414.7,401.6 V399.6 M418.2,401.6 V399.6 M426,401.6 V399.6 M428.5,401.6 V399.6 M432,401.6 V399.6 M434.6,401.6 V399.6 M437.2,401.6 V399.6 M440.7,401.6 V399.6 M443.3,401.6 V399.6 M445.8,401.6 V399.6 M447.8,401.6 V399.6 M451.9,411.1 V409.1 M455.4,411.1 V409.1 M459.7,411.1 V409.1 M464,411.1 V409.1 M468.3,411.1 V409.1 M472.7,411.1 V409.1 M476.1,411.1 V409.1 M480.2,411.1 V409.1" stroke="#23345c" stroke-width="1.4"/>
<path d="M312,401.6 H338.3 V402.9 H340.9 V404.5 H345.2 V407.2 H358.2 V410.5 H375 V413.3 H383.2 V415.7 H409.2 V417 H412.3 V418.1 H416.2 V418.9 H420 V420.4 H429.2 V421.9 H432.3 V423 H435.2 V425.2 H438.1 V430.3 H458.3 V437.9 H469.2 V446.5 H484.2" stroke="#8a1233" stroke-width="1.9" fill="none"/>
<path d="M318.4,401.6 V399.6 M337.8,401.6 V399.6 M401.5,415.7 V413.7 M413,418.1 V416.1 M415,418.1 V416.1 M422.3,420.4 V418.4 M424.6,420.4 V418.4 M427.7,420.4 V418.4 M442.7,430.3 V428.3 M448.5,430.3 V428.3 M450.8,430.3 V428.3 M453.1,430.3 V428.3 M456,430.3 V428.3 M466.9,437.9 V435.9 M472.7,446.5 V444.5 M476.1,446.5 V444.5 M480.7,446.5 V444.5 M484.2,446.5 V444.5" stroke="#8a1233" stroke-width="1.4"/>
<text x="450.40" y="404.20" text-anchor="start" font-size="8.21" textLength="20.00" lengthAdjust="spacingAndGlyphs" fill="#4a5272" stroke="#4a5272" stroke-width="0.26" >34(1)</text>
<text x="430.40" y="440.60" text-anchor="start" font-size="8.21" textLength="22.60" lengthAdjust="spacingAndGlyphs" fill="#7a3f58" stroke="#7a3f58" stroke-width="0.26" >75(16)</text>
</svg>
</body></html>
